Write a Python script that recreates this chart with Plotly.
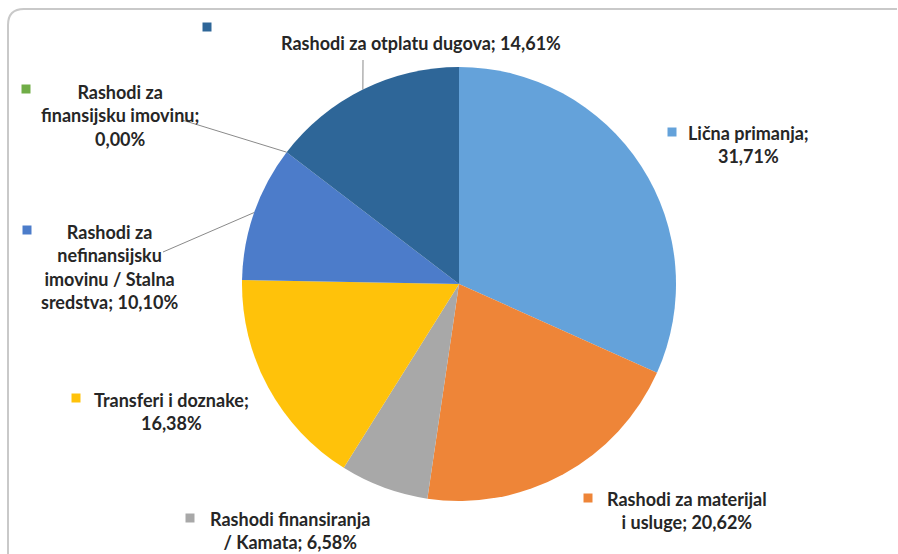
import math
import plotly.graph_objects as go

W, H = 898, 554

categories = [
    "Lična primanja",
    "Rashodi za materijal i usluge",
    "Rashodi finansiranja / Kamata",
    "Transferi i doznake",
    "Rashodi za nefinansijsku imovinu / Stalna sredstva",
    "Rashodi za finansijsku imovinu",
    "Rashodi za otplatu dugova",
]
values = [31.71, 20.62, 6.58, 16.38, 10.10, 0.00, 14.61]
label_texts = [
    "Lična primanja;<br>31,71%",
    "Rashodi za materijal<br>i usluge; 20,62%",
    "Rashodi finansiranja<br>/ Kamata; 6,58%",
    "Transferi i doznake;<br>16,38%",
    "Rashodi za<br>nefinansijsku<br>imovinu / Stalna<br>sredstva; 10,10%",
    "Rashodi za<br>finansijsku imovinu;<br>0,00%",
    "Rashodi za otplatu dugova; 14,61%",
]
colors = ["#64A2DA", "#EE8538", "#A8A8A8", "#FFC20A", "#4C7CCA", "#70AD47", "#2E6698"]

# layout (pixel positions of label blocks, key squares, leader starts)
cx, cy, r = 459, 284, 217
label_pos = [(748, 145), (687, 510), (290, 530), (171, 411), (109, 267), (120, 115), (421, 43)]
key_pos = [(672, 132), (588, 498), (190, 518), (76, 398), (27, 230), (26, 89), (207, 27)]
leader_start = {4: (163, 252), 5: (182, 120), 6: (363, 60)}

def px(x):
    return x / W

def py(y):
    return 1 - y / H

fig = go.Figure(go.Pie(
    labels=categories,
    values=values,
    sort=False,
    direction="clockwise",
    rotation=0,
    marker=dict(colors=colors, line=dict(width=0)),
    textinfo="none",
    hoverinfo="label+percent",
    showlegend=False,
    domain=dict(x=[px(cx - r), px(cx + r)], y=[py(cy + r), py(cy - r)]),
))

shapes = []
# frame
shapes.append(dict(
    type="path", xref="paper", yref="paper",
    path=f"M {px(8)},{py(560)} L {px(8)},{py(25)} Q {px(8)},{py(9)} {px(24)},{py(9)} L {px(897)},{py(9)}",
    line=dict(color="#c9c9c9", width=2),
))

total = sum(values)
cum = 0.0
mids = []
for v in values:
    mids.append((cum + v / 2) / total * 2 * math.pi)
    cum += v

for i, (sx, sy) in leader_start.items():
    a = mids[i]
    ex = cx + r * math.sin(a)
    ey = cy - r * math.cos(a)
    shapes.append(dict(type="line", xref="paper", yref="paper",
                       x0=px(sx), y0=py(sy), x1=px(ex), y1=py(ey),
                       line=dict(color="#8a8a8a", width=1)))

for (kx, ky), c in zip(key_pos, colors):
    shapes.append(dict(type="rect", xref="paper", yref="paper",
                       x0=px(kx - 4.5), x1=px(kx + 4.5), y0=py(ky + 4.5), y1=py(ky - 4.5),
                       fillcolor=c, line=dict(width=0)))

annotations = []
for t, (lx, ly) in zip(label_texts, label_pos):
    annotations.append(dict(
        text=t, x=px(lx), y=py(ly), xref="paper", yref="paper",
        xanchor="center", yanchor="middle", align="center", showarrow=False,
        font=dict(family="Lato", size=18, color="#262626", weight="bold"),
    ))

fig.update_layout(
    width=W, height=H,
    margin=dict(l=0, r=0, t=0, b=0),
    paper_bgcolor="white", plot_bgcolor="white",
    shapes=shapes, annotations=annotations,
)

fig.write_html("out.html", config={"displayModeBar": False},
               post_script="document.body.style.margin='0px';")
